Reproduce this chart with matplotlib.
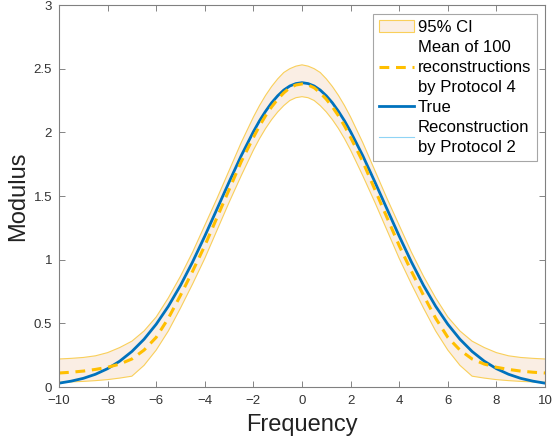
import numpy as np
import matplotlib
matplotlib.use("Agg")
import matplotlib.pyplot as plt
from matplotlib.patches import Patch

plt.rcParams['font.family'] = ['Liberation Sans', 'DejaVu Sans']

# left half of the frequency grid (the curves are symmetric about 0)
freq_half = [-10, -9.5, -9, -8.5, -8, -7.5, -7, -6.5, -6, -5.5, -5, -4.5, -4,
             -3.5, -3, -2.5, -2, -1.75, -1.5, -1.25, -1, -0.75, -0.5, -0.25, 0]

true_half = [0.03, 0.046, 0.068, 0.10, 0.144, 0.203, 0.279, 0.375, 0.493, 0.634,
             0.798, 0.983, 1.185, 1.397, 1.610, 1.817, 2.005, 2.090, 2.165, 2.232,
             2.287, 2.332, 2.364, 2.383, 2.39]
mean_half = [0.11, 0.116, 0.125, 0.138, 0.155, 0.18, 0.22, 0.29, 0.39, 0.54,
             0.72, 0.91, 1.11, 1.33, 1.55, 1.77, 1.96, 2.05, 2.13, 2.20,
             2.26, 2.31, 2.35, 2.372, 2.38]
lower_half = [0.037, 0.04, 0.044, 0.05, 0.058, 0.07, 0.085, 0.17, 0.29, 0.44,
              0.62, 0.81, 1.01, 1.23, 1.45, 1.66, 1.86, 1.95, 2.03, 2.10,
              2.16, 2.21, 2.25, 2.272, 2.28]
upper_half = [0.22, 0.225, 0.232, 0.245, 0.27, 0.31, 0.36, 0.44, 0.55, 0.70,
              0.87, 1.06, 1.27, 1.48, 1.70, 1.92, 2.12, 2.21, 2.29, 2.36,
              2.42, 2.47, 2.50, 2.52, 2.53]

def mirror(half, negate=False):
    back = half[-2::-1]
    if negate:
        back = [-v for v in back]
    return np.array(half + back)

freq = mirror(freq_half, negate=True)
true_mod = mirror(true_half)
mean_mod = mirror(mean_half)
ci_low = mirror(lower_half)
ci_high = mirror(upper_half)
# protocol 2 reconstruction lies under the true curve
recon_p2 = true_mod.copy()

band_face = '#faeee4'
band_edge = '#f9cf5a'

fig = plt.figure(figsize=(5.54, 4.40), dpi=100)
ax = fig.add_axes([59/554, 53/440, 486/554, 382/440])

ax.fill_between(freq, ci_low, ci_high, facecolor=band_face, edgecolor='none')
ax.plot(freq, ci_low, color=band_edge, lw=0.8)
ax.plot(freq, ci_high, color=band_edge, lw=0.8)
ln_p2, = ax.plot(freq, recon_p2, color='#8fd4f5', lw=0.8)
ln_true, = ax.plot(freq, true_mod, color='#0072bd', lw=2.0)
ln_mean, = ax.plot(freq, mean_mod, color='#ffbf00', lw=2.2, dashes=(3.2, 2.2))
ci_proxy = Patch(facecolor=band_face, edgecolor=band_edge, lw=0.8)

ax.set_xlim(-10, 10)
ax.set_ylim(0, 3)
ax.set_xticks(np.arange(-10, 11, 2))
ax.set_yticks([0, 0.5, 1, 1.5, 2, 2.5, 3])
ax.set_yticklabels(['0', '0.5', '1', '1.5', '2', '2.5', '3'])
ax.tick_params(direction='in', length=4, width=0.6, colors='#707070',
               labelcolor='#333333', labelsize=9.5, top=True, right=True)
ax.tick_params(axis='x', pad=6)
ax.tick_params(axis='y', pad=5)
for sp in ax.spines.values():
    sp.set_color('#808080')
    sp.set_linewidth(0.8)

ax.set_xlabel('Frequency', fontsize=17, color='#222222', labelpad=5)
ax.set_ylabel('Modulus', fontsize=17, color='#222222', labelpad=3)

leg = ax.legend([ci_proxy, ln_mean, ln_true, ln_p2],
                ['95% CI', 'Mean of 100\nreconstructions\nby Protocol 4',
                 'True', 'Reconstruction\nby Protocol 2'],
                loc='upper right', bbox_to_anchor=(0.983, 0.977), fontsize=12,
                frameon=True, fancybox=False, edgecolor='#909090',
                handlelength=2.1, handletextpad=0.2, borderpad=0.35,
                labelspacing=0.3, borderaxespad=0)
for txt in leg.get_texts():
    txt.set_linespacing(1.42)
leg.get_frame().set_linewidth(0.8)

fig.savefig('out.png', dpi=100)
